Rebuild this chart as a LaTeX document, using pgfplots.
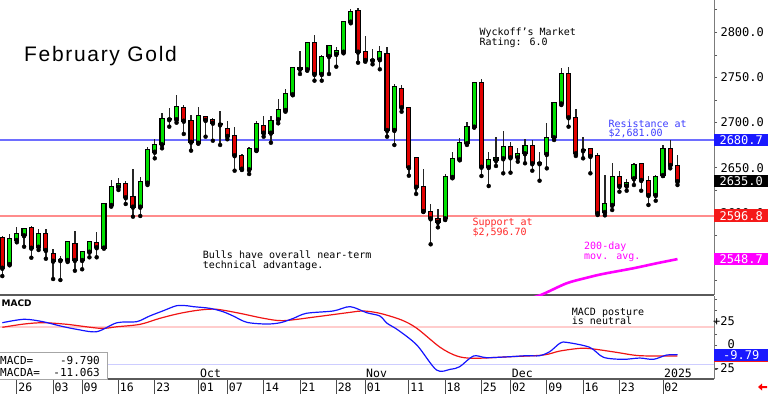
\documentclass[border=0pt]{standalone}
\usepackage{pgfplots}
\pgfplotsset{compat=1.18}
\usepackage{pgfplotstable}
\usepackage{fontspec}
\setmainfont{DejaVu Sans Mono}
\newfontfamily\titlefont[LetterSpace=8]{Liberation Sans}
\newfontfamily\boldsans{DejaVu Sans}
\definecolor{cgreen}{RGB}{0,225,0}
\definecolor{cred}{RGB}{225,0,0}
\definecolor{resblue}{RGB}{110,110,255}
\definecolor{suppred}{RGB}{255,140,140}
\definecolor{txtblue}{RGB}{60,60,255}
\definecolor{txtred}{RGB}{255,40,40}
\definecolor{mag}{RGB}{255,0,255}
\definecolor{axgray}{RGB}{90,90,90}
\definecolor{mblue}{RGB}{20,20,255}
\definecolor{mred}{RGB}{240,20,20}
\definecolor{boxblue}{RGB}{25,25,255}
\definecolor{boxred}{RGB}{245,25,25}
\definecolor{pinkl}{RGB}{255,205,205}
\definecolor{lavl}{RGB}{205,205,255}
\newcommand\sm{\fontsize{10bp}{11bp}\selectfont}
\newcommand\tk{\fontsize{12bp}{13bp}\selectfont}
\newcommand\dt{\fontsize{11.5bp}{12bp}\selectfont}
\newcommand\bx{\fontsize{11bp}{12bp}\selectfont}

\pgfplotstableread{
i o h l c
1 2542.9 2576.5 2542.9 2570.6
2 2569.9 2584.6 2567.3 2576.2
3 2575.1 2582.8 2562.4 2581.7
5 2562.4 2582.1 2558.8 2576.5
8 2547.5 2552.1 2525.5 2548.0
9 2547.7 2568.0 2545.5 2567.3
11 2547.7 2558.0 2537.4 2556.6
12 2556.9 2569.1 2550.7 2567.6
14 2561.3 2610.5 2561.3 2609.8
15 2608.7 2636.4 2606.8 2628.9
16 2628.9 2638.9 2625.3 2631.6
19 2606.8 2640.0 2596.5 2634.5
20 2633.4 2673.3 2630.8 2669.6
21 2667.7 2681.5 2660.4 2675.2
22 2675.9 2711.0 2671.5 2703.7
24 2703.7 2730.6 2699.9 2717.6
27 2677.7 2717.0 2677.1 2707.3
34 2648.2 2673.3 2643.0 2670.4
35 2669.6 2702.1 2668.9 2698.1
37 2688.8 2707.3 2677.7 2702.1
38 2703.7 2726.2 2699.2 2714.0
39 2714.0 2736.9 2712.1 2731.4
40 2731.4 2762.0 2730.6 2760.2
42 2759.1 2788.6 2757.5 2787.9
44 2753.9 2774.9 2746.5 2773.1
45 2773.8 2786.0 2753.9 2784.9
46 2776.1 2784.1 2762.0 2779.7
47 2778.6 2813.0 2776.8 2811.9
48 2811.9 2825.9 2810.1 2822.9
51 2769.2 2781.6 2764.6 2769.6
52 2770.2 2785.3 2759.1 2777.9
54 2691.8 2742.8 2675.2 2739.1
61 2593.9 2642.7 2592.0 2639.7
62 2639.7 2667.1 2638.3 2659.3
63 2659.3 2682.6 2658.5 2677.1
64 2677.1 2701.0 2675.2 2695.5
65 2695.5 2744.2 2694.8 2743.6
67 2650.8 2667.7 2629.7 2658.5
68 2658.5 2683.7 2651.9 2661.1
69 2660.4 2691.0 2643.8 2673.3
71 2661.5 2671.5 2656.7 2665.2
72 2666.0 2681.5 2654.9 2674.1
75 2665.2 2699.9 2649.3 2682.6
76 2683.7 2721.7 2680.7 2721.4
77 2721.2 2760.2 2719.5 2753.9
80 2669.3 2683.7 2660.4 2669.8
83 2600.9 2641.4 2597.2 2609.8
84 2608.7 2654.9 2603.1 2640.0
86 2630.1 2637.1 2624.5 2633.4
87 2638.3 2655.5 2630.8 2653.0
90 2619.7 2641.9 2613.4 2639.4
91 2641.9 2675.2 2640.8 2670.4
}\up

\pgfplotstableread{
i o h l c
0 2571.7 2574.3 2529.9 2539.1
4 2582.8 2585.0 2550.2 2561.3
6 2576.5 2581.7 2549.1 2558.8
7 2554.0 2559.5 2526.6 2546.9
10 2565.4 2580.2 2535.8 2547.7
13 2566.5 2579.1 2550.7 2561.8
17 2631.6 2635.3 2609.8 2617.2
18 2617.9 2648.2 2595.7 2606.8
23 2704.3 2715.9 2695.5 2703.7
25 2715.9 2719.5 2687.4 2702.1
26 2701.8 2708.4 2668.9 2678.8
28 2705.9 2706.5 2684.4 2702.9
29 2702.9 2704.8 2679.9 2699.9
30 2698.5 2712.9 2675.2 2698.0
31 2692.6 2702.1 2681.5 2685.2
32 2685.2 2695.5 2646.7 2663.8
33 2663.0 2665.2 2647.5 2648.9
36 2696.2 2707.3 2684.4 2688.8
41 2760.2 2779.7 2753.9 2759.6
43 2787.9 2797.1 2746.5 2753.9
49 2823.7 2826.7 2766.4 2778.6
50 2777.9 2796.3 2767.5 2769.4
53 2776.1 2784.1 2684.4 2691.8
55 2737.3 2741.7 2712.1 2717.0
56 2715.9 2717.0 2641.1 2650.5
57 2660.4 2661.1 2620.9 2628.9
58 2628.3 2648.2 2601.2 2602.0
59 2601.2 2609.4 2565.1 2593.9
60 2593.1 2604.2 2583.9 2590.1
66 2743.6 2748.0 2640.8 2651.1
70 2673.3 2678.8 2644.5 2661.5
73 2674.1 2680.7 2646.7 2654.9
74 2655.2 2667.7 2635.6 2654.9
78 2753.9 2762.0 2695.5 2705.9
79 2704.8 2714.7 2663.0 2666.0
81 2670.4 2671.5 2643.8 2663.0
82 2663.3 2666.6 2597.6 2599.5
85 2639.4 2646.7 2623.4 2629.7
88 2654.1 2655.5 2624.5 2636.4
89 2635.6 2640.8 2608.7 2619.7
92 2670.4 2680.7 2649.3 2653.0
93 2652.2 2664.1 2630.8 2635.0
}\down

\begin{document}
\begin{tikzpicture}[x=1bp,y=1bp]
\useasboundingbox (0bp,-394bp) rectangle (768bp,0bp);
% ---------------- main price panel
\begin{axis}[
  at={(0bp,0bp)}, anchor=north west, scale only axis,
  width=714bp, height=295bp,
  xmin=-0.317, xmax=98.03, ymin=2508.9, ymax=2835.9,
  axis x line*=bottom, axis y line*=right,
  x axis line style={draw=axgray, line width=2.2bp},
  y axis line style={draw=axgray!80, line width=1bp},
  xtick=\empty,
  ytick={2550,2600,2650,2700,2750,2800},
  yticklabels={2550.0,2600.0,2650.0,2700.0,2750.0,2800.0},
  minor ytick={2525,2575,2625,2675,2725,2775,2825},
  tick align=outside, major tick length=3bp, minor tick length=3bp,
  tick style={draw=axgray, line width=0.8bp},
  yticklabel style={font=\tk, anchor=west},
  /pgf/number format/assume math mode=true,
]
\addplot[resblue, line width=1.3bp, forget plot] coordinates {(-0.317,2680.7) (98.03,2680.7)};
\addplot[suppred, line width=1.8bp, forget plot] coordinates {(-0.317,2596.8) (98.03,2596.8)};
\addplot[mag, line width=2.6bp, smooth, forget plot] coordinates {
(72,2504) (74.2,2509) (77.7,2521.8) (80.5,2528) (82.7,2532.2) (86.9,2538.5) (90.1,2544) (93,2548.7)};
% wicks
\addplot[only marks, mark=none, forget plot, error bars/.cd, y dir=plus, y explicit, error mark=none,
  error bar style={draw=black!85, line width=1.3bp}]
  table[x=i, y=l, y error expr=\thisrow{h}-\thisrow{l}] {\up};
\addplot[only marks, mark=none, forget plot, error bars/.cd, y dir=plus, y explicit, error mark=none,
  error bar style={draw=black!85, line width=1.3bp}]
  table[x=i, y=l, y error expr=\thisrow{h}-\thisrow{l}] {\down};
% body outlines
\addplot[only marks, mark=none, forget plot, error bars/.cd, y dir=plus, y explicit, error mark=none,
  error bar style={draw=black, line width=5.2bp}]
  table[x=i, y expr=\thisrow{o}-1.1, y error expr=\thisrow{c}-\thisrow{o}+2.2] {\up};
\addplot[only marks, mark=none, forget plot, error bars/.cd, y dir=plus, y explicit, error mark=none,
  error bar style={draw=black, line width=5.2bp}]
  table[x=i, y expr=\thisrow{c}-1.1, y error expr=\thisrow{o}-\thisrow{c}+2.2] {\down};
% bodies
\addplot[only marks, mark=none, forget plot, error bars/.cd, y dir=plus, y explicit, error mark=none,
  error bar style={draw=cgreen, line width=3bp}]
  table[x=i, y=o, y error expr=\thisrow{c}-\thisrow{o}] {\up};
\addplot[only marks, mark=none, forget plot, error bars/.cd, y dir=plus, y explicit, error mark=none,
  error bar style={draw=cred, line width=3bp}]
  table[x=i, y=c, y error expr=\thisrow{o}-\thisrow{c}] {\down};
\coordinate (res) at (axis cs:98.03,2680.7);
\coordinate (last) at (axis cs:98.03,2635.0);
\coordinate (sup) at (axis cs:98.03,2596.8);
\coordinate (ma) at (axis cs:98.03,2548.7);
\end{axis}
% ---------------- MACD panel
\begin{axis}[
  at={(0bp,-296bp)}, anchor=north west, scale only axis,
  width=714bp, height=83bp,
  xmin=-0.317, xmax=98.03, ymin=-35.65, ymax=53.2,
  axis x line*=bottom, axis y line*=right,
  x axis line style={draw=axgray, line width=1.5bp},
  y axis line style={draw=axgray!80, line width=1bp},
  xtick={2,7,11,16,21,27,31,36,41,46,50,56,61,66,70,75,80,85,91},
  xticklabels={26,03,09,16,23,01,07,14,21,28,01,11,18,25,02,09,16,23,02},
  xtick style={draw=black!70, line width=0.8bp, /pgfplots/major tick length=15bp},
  xticklabel style={font=\dt, anchor=north west, xshift=-2bp, yshift=4bp},
  ytick={-25,0,25}, yticklabels={-25,0,+25},
  minor ytick={-12.5,12.5,37.5,50},
  ytick style={draw=axgray, line width=0.8bp, /pgfplots/major tick length=3bp, /pgfplots/minor tick length=3bp},
  tick align=outside,
  yticklabel style={font=\tk, anchor=east, xshift=20bp, yshift=1.2bp},
]
\addplot[pinkl, line width=1.3bp, forget plot] coordinates {(-0.317,20) (98.03,20)};
\addplot[lavl, line width=1.3bp, forget plot] coordinates {(-0.317,-20) (98.03,-20)};
\addplot[mred, line width=1.2bp, smooth, forget plot] coordinates {
(0,19.7) (3,23.2) (5.6,24.6) (8.9,22.9) (13.5,18.6) (15.8,20.3) (19,22.9) (21.7,29.3)
(24.5,34.7) (27.2,38.2) (29.5,39) (32.7,34.7) (36,29.3) (38.7,26.8) (43.3,31) (47.9,35.7)
(49.7,37.2) (52,34.7) (55,27.5) (57.1,18.6) (60.3,-1.7) (62.6,-11) (64.9,-13.5) (69.9,-11.8)
(74.5,-10) (76.8,-5.7) (79.6,-2.8) (81.4,-3.5) (84.6,-7.1) (87.8,-10.7) (93,-11.063)};
\addplot[mblue, line width=1.2bp, smooth, forget plot] coordinates {
(0,24.6) (3,28.3) (5.6,25.7) (8,21.1) (10.2,17.6) (13,15) (15.8,24.6) (18.5,25.7) (20.3,31.8)
(22.2,37.5) (24,42.8) (25.4,42.8) (26.3,41.8) (28.6,40) (30.4,36.4) (31.8,31.8) (33.7,25)
(36.4,23.2) (38.3,24.6) (40.1,29.3) (41.9,34.7) (45.6,37.2) (47.9,41.8) (50.2,35.3) (52,31.8)
(53,24) (54.5,16.8) (57.1,0.7) (59.8,-26) (61.7,-25.3) (63,-22.5) (64.9,-11) (66.7,-12.8)
(69.9,-11.8) (72.2,-10.7) (74,-10.7) (75.4,-6.4) (76.8,2.6) (77.7,3.6) (80.9,-1.7) (82.8,-12.4)
(85.5,-14.6) (87.8,-13.2) (89.7,-14.6) (91.5,-10) (93,-9.79)};
\coordinate (macd) at (axis cs:98.03,-9.79);
\coordinate (macda) at (axis cs:98.03,-11.063);
\end{axis}
% ---------------- right value boxes
\tikzset{vbox/.style={anchor=west, minimum width=54bp, minimum height=12.5bp, inner sep=0pt, text=white, font=\tk}}
\node[vbox, fill=boxblue] at (res) {2680.7};
\node[vbox, fill=black] at (last) {2635.0};
\node[vbox, fill=boxred] at (sup) {2596.8};
\node[vbox, fill=mag] at (ma) {2548.7};
\node[vbox, fill=boxred] at (macda) {};
\node[vbox, fill=boxblue, minimum height=11.5bp] at (macd) {-9.79};
% ---------------- annotations
\node[anchor=base west, inner sep=0pt, font={\fontsize{21bp}{24bp}\titlefont}] at (24bp,-61.7bp) {February Gold};
\node[anchor=base west, inner sep=0pt, font=\sm] at (479.3bp,-35bp) {Wyckoff's Market};
\node[anchor=base west, inner sep=0pt, font=\sm] at (479.3bp,-45bp) {Rating: 6.0};
\node[anchor=base west, inner sep=0pt, font=\sm, text=txtblue] at (608.3bp,-127bp) {Resistance at};
\node[anchor=base west, inner sep=0pt, font=\sm, text=txtblue] at (608.3bp,-136.7bp) {\$2,681.00};
\node[anchor=base west, inner sep=0pt, font=\sm, text=txtred] at (472.3bp,-225bp) {Support at};
\node[anchor=base west, inner sep=0pt, font=\sm, text=txtred] at (472.3bp,-235bp) {\$2,596.70};
\node[anchor=base west, inner sep=0pt, font=\sm] at (202.7bp,-258.3bp) {Bulls have overall near-term};
\node[anchor=base west, inner sep=0pt, font=\sm] at (202.7bp,-268.3bp) {technical advantage.};
\node[anchor=base west, inner sep=0pt, font=\sm, text=mag] at (584bp,-249bp) {200-day};
\node[anchor=base west, inner sep=0pt, font=\sm, text=mag] at (584bp,-259.3bp) {mov. avg.};
\node[anchor=base west, inner sep=0pt, font=\sm] at (571.7bp,-315bp) {MACD posture};
\node[anchor=base west, inner sep=0pt, font=\sm] at (571.7bp,-324.3bp) {is neutral};
\node[anchor=base west, inner sep=0pt, font={\fontsize{9bp}{10bp}\boldsans\bfseries}] at (1.5bp,-306.7bp) {MACD};
% month labels
\node[anchor=base west, inner sep=0pt, font=\dt] at (200bp,-377bp) {Oct};
\node[anchor=base west, inner sep=0pt, font=\dt] at (366bp,-377bp) {Nov};
\node[anchor=base west, inner sep=0pt, font=\dt] at (511.7bp,-377bp) {Dec};
\node[anchor=base west, inner sep=0pt, font=\dt] at (664bp,-377bp) {2025};
% MACD value box
\draw[draw=gray!70, fill=white, line width=1bp] (-1bp,-352.7bp) rectangle (107.5bp,-379bp);
\node[anchor=base west, inner sep=0pt, font=\bx] at (0bp,-364bp) {MACD=};
\node[anchor=base east, inner sep=0pt, font=\bx] at (100bp,-364bp) {-9.790};
\node[anchor=base west, inner sep=0pt, font=\bx] at (0bp,-376bp) {MACDA=};
\node[anchor=base east, inner sep=0pt, font=\bx] at (100bp,-376bp) {-11.063};
% small red arrow
\fill[red] (758bp,-387bp) -- (762bp,-383.5bp) -- (762bp,-386bp) -- (767bp,-386bp) -- (767bp,-388bp) -- (762bp,-388bp) -- (762bp,-390.5bp) -- cycle;
\end{tikzpicture}
\end{document}
